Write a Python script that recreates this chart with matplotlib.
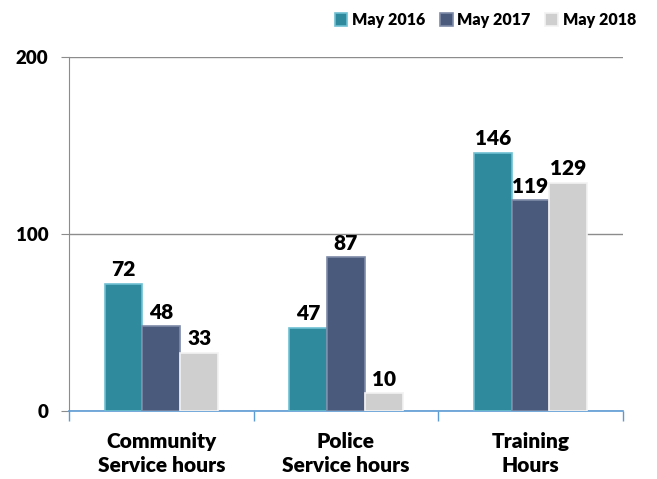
import numpy as np
import matplotlib.pyplot as plt

categories = ["Community\nService hours", "Police\nService hours", "Training\nHours"]
series = ["May 2016", "May 2017", "May 2018"]
may2016 = [72, 47, 146]
may2017 = [48, 87, 119]
may2018 = [33, 10, 129]
colors = ["#2F8A9E", "#4A5A7C", "#CFCFCF"]
edges = ["#6FC0D2", "#7E8BA8", "#F2F2F2"]

plt.rcParams['font.family'] = ['Lato', 'DejaVu Sans']
plt.rcParams['font.weight'] = 'heavy'

fig = plt.figure(figsize=(6.57, 4.79), dpi=100)
ax = fig.add_axes([0.105, 0.142, 0.843, 0.739])

x = np.arange(len(categories))
w = 0.205
for i, (vals, c, ec, name) in enumerate(zip([may2016, may2017, may2018], colors, edges, series)):
    pos = x + (i - 1) * w
    bars = ax.bar(pos, vals, w, color=c, edgecolor=ec, linewidth=1.2, label=name, zorder=3)
    for b, v in zip(bars, vals):
        ax.text(b.get_x() + b.get_width() / 2, v + 2.5, str(v), ha='center', va='bottom',
                fontsize=15, fontweight='heavy', color='black', zorder=4)

ax.set_xlim(-0.5, 2.5)
ax.set_ylim(0, 200)
ax.set_yticks([0, 100, 200])
ax.set_yticklabels(["0", "100", "200"], fontsize=13.5, fontweight='heavy')
ax.yaxis.grid(True, color='#8C8C8C', linewidth=1, zorder=0)
ax.tick_params(axis='y', length=6, color='#8C8C8C', pad=9)

ax.set_xticks(x)
ax.set_xticklabels(categories, fontsize=15, fontweight='heavy', linespacing=1.3)
ax.tick_params(axis='x', length=0, pad=15)
ax.set_xticks([-0.5, 0.5, 1.5, 2.5], minor=True)
ax.tick_params(axis='x', which='minor', length=7, color='#5B9BD5', width=1)

for s in ['top', 'right']:
    ax.spines[s].set_visible(False)
ax.spines['left'].set_color('#8C8C8C')
ax.spines['bottom'].set_color('#5B9BD5')
ax.spines['bottom'].set_linewidth(1.2)

leg = fig.legend(loc='upper right', bbox_to_anchor=(0.99, 1.005), ncol=3, frameon=False,
                 handlelength=0.8, handleheight=0.8, handletextpad=0.3,
                 columnspacing=0.9, prop={'weight': 'heavy', 'size': 11.5})

fig.savefig("out.png", dpi=100)
